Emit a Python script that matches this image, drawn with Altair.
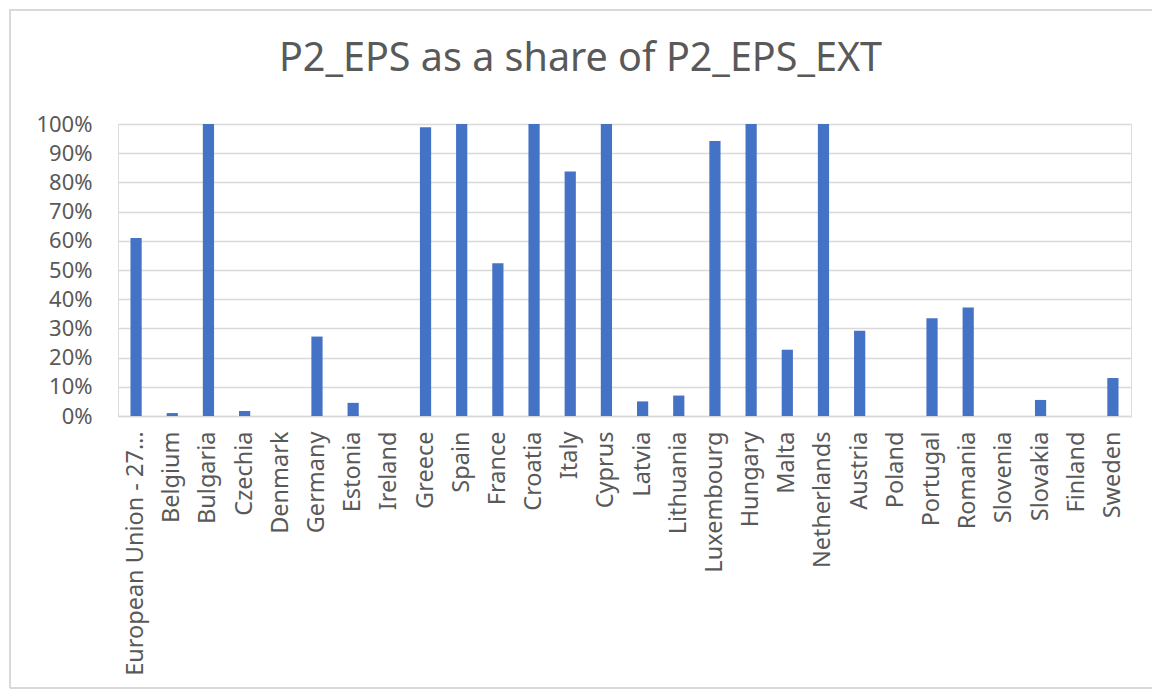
import altair as alt
import pandas as pd

countries = [
    "European Union - 27 countries (from 2020)", "Belgium", "Bulgaria", "Czechia", "Denmark",
    "Germany", "Estonia", "Ireland", "Greece", "Spain", "France", "Croatia", "Italy",
    "Cyprus", "Latvia", "Lithuania", "Luxembourg", "Hungary", "Malta", "Netherlands",
    "Austria", "Poland", "Portugal", "Romania", "Slovenia", "Slovakia", "Finland", "Sweden",
]
shares = [
    0.61, 0.01, 1.00, 0.017, 0.0,
    0.272, 0.045, 0.0, 0.989, 1.00, 0.523, 1.00, 0.837,
    1.00, 0.05, 0.07, 0.942, 1.00, 0.227, 1.00,
    0.292, 0.0, 0.335, 0.372, 0.0, 0.055, 0.0, 0.13,
]
title_text = "P2_EPS as a share of P2_EPS_EXT"

df = pd.DataFrame({"country": countries, "share": shares})

W, H = 1013, 292
PAD = {"left": 110, "top": 116, "right": 21, "bottom": 275}
TEXT = "#595959"
GRID = "#D9D9D9"
FONT = "Noto Sans"

bars = alt.Chart(df).mark_bar(color="#4472C4").encode(
    x=alt.X(
        "country:N",
        sort=countries,
        title=None,
        scale=alt.Scale(paddingInner=0.69, paddingOuter=0.345),
        axis=alt.Axis(
            labelAngle=-90,
            labelFontSize=23.5,
            labelFont=FONT,
            labelColor=TEXT,
            labelPadding=15,
            labelLimit=400,
            labelExpr="length(datum.label) > 20 ? slice(datum.label, 0, 19) + '…' : datum.label",
            ticks=False,
            domainColor=GRID,
            domainWidth=1.3,
            grid=False,
        ),
    ),
    y=alt.Y(
        "share:Q",
        title=None,
        scale=alt.Scale(domain=[0, 1], nice=False),
        axis=alt.Axis(
            format=".0%",
            values=[i / 10 for i in range(11)],
            labelFontSize=22,
            labelFont=FONT,
            labelColor=TEXT,
            labelPadding=26,
            ticks=False,
            domain=False,
            gridColor=GRID,
            gridWidth=1.3,
        ),
    ),
)

frame_left = alt.Chart(df).mark_rule(color=GRID, strokeWidth=2, clip=False).encode(
    x=alt.value(-108), y=alt.value(-115), y2=alt.value(H + 272)
)
frame_top = alt.Chart(df).mark_rule(color=GRID, strokeWidth=2, clip=False).encode(
    x=alt.value(-108), x2=alt.value(W + 21), y=alt.value(-114)
)
frame_bottom = alt.Chart(df).mark_rule(color=GRID, strokeWidth=2, clip=False).encode(
    x=alt.value(-108), x2=alt.value(W + 21), y=alt.value(H + 272)
)

chart = alt.layer(bars, frame_left, frame_top, frame_bottom).properties(
    width=W,
    height=H,
    autosize=alt.AutoSizeParams(type="none"),
    padding=PAD,
    title=alt.TitleParams(
        text=title_text,
        fontSize=39.5,
        font=FONT,
        fontWeight="normal",
        color=TEXT,
        anchor="middle",
        dx=-44,
        offset=-71,
    ),
).configure_view(stroke=None).configure(background="white")

chart.save("out.html", embed_options={"renderer": "svg", "actions": False})
